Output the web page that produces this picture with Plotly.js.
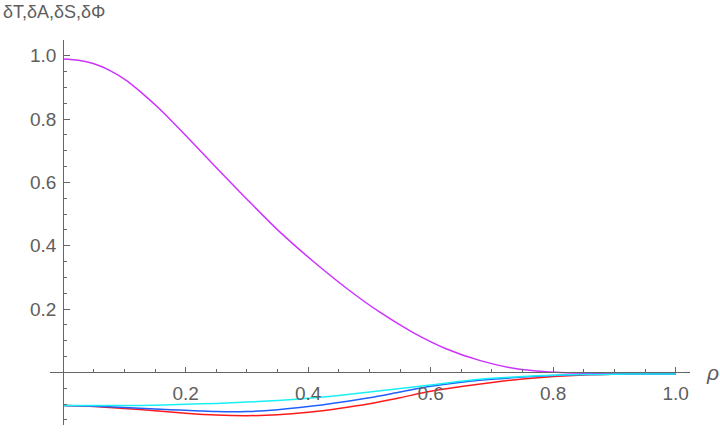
<!DOCTYPE html>
<html><head><meta charset="utf-8">
<script src="https://cdn.plot.ly/plotly-3.0.1.min.js"></script>
<style>html,body{margin:0;padding:0;background:#fff}#chart{width:720px;height:438px}</style>
</head><body><div id="chart"></div>
<script>
const rhoPurple = [0,0.025,0.049,0.075,0.104,0.130,0.158,0.200,0.245,0.300,0.354,0.408,0.463,0.517,0.572,0.626,0.681,0.735,0.789,0.85,0.90,0.95,1.0];
const dPurple   = [0.990,0.986,0.976,0.955,0.921,0.880,0.831,0.748,0.657,0.547,0.443,0.351,0.265,0.190,0.125,0.074,0.037,0.013,0.002,-0.003,-0.005,-0.005,-0.005];
const rho = [0,0.05,0.10,0.15,0.20,0.25,0.30,0.35,0.40,0.45,0.50,0.55,0.60,0.65,0.70,0.75,0.80,0.85,0.90,0.95,1.0];
const dRed  = [-0.105,-0.108,-0.114,-0.121,-0.129,-0.135,-0.137,-0.134,-0.126,-0.114,-0.099,-0.080,-0.060,-0.045,-0.032,-0.021,-0.013,-0.008,-0.006,-0.005,-0.005];
const dBlue = [-0.105,-0.107,-0.111,-0.116,-0.120,-0.124,-0.124,-0.118,-0.108,-0.095,-0.080,-0.062,-0.044,-0.031,-0.022,-0.015,-0.010,-0.007,-0.006,-0.005,-0.005];
const dCyan = [-0.105,-0.105,-0.105,-0.104,-0.101,-0.098,-0.094,-0.089,-0.082,-0.073,-0.062,-0.051,-0.040,-0.028,-0.019,-0.013,-0.009,-0.007,-0.006,-0.005,-0.005];
const xTicks = [0.2,0.4,0.6,0.8,1.0];
const xTickText = ["0.2","0.4","0.6","0.8","1.0"];
const yTicks = [0.2,0.4,0.6,0.8,1.0];
const yTickText = ["0.2","0.4","0.6","0.8","1.0"];

const xr = [-0.0216, 1.0233];
const yr = [-0.1663, 1.0500];
const gray = '#666666';
const fam = 'Liberation Sans, Arial, sans-serif';
const font = {family:fam, size:19, color:'#5e5e5e'};

function tr(y, color){
  return {x: rho, y: y, mode:'lines', line:{color:color, width:1.5, shape:'spline', smoothing:0.8}, hoverinfo:'skip', showlegend:false};
}
const traces = [
  {x: rhoPurple, y: dPurple, mode:'lines', line:{color:'#cc33ff', width:1.5, shape:'spline', smoothing:0.8}, showlegend:false},
  tr(dRed, '#ff1a1a'),
  tr(dBlue, '#1f5fff'),
  tr(dCyan, '#19f0f5')
];
const layout = {
  width:720, height:438,
  margin:{l:50, r:30, t:40, b:13},
  paper_bgcolor:'#fff', plot_bgcolor:'#fff',
  showlegend:false,
  xaxis:{range:xr, showgrid:false, zeroline:false, showline:true, linecolor:gray, linewidth:1,
    anchor:'free', position:(0-yr[0])/(yr[1]-yr[0]),
    tickmode:'array', tickvals:xTicks, ticktext:xTickText, ticks:'inside', ticklen:5, tickcolor:gray, tickwidth:1,
    ticklabelstandoff:4,
    minor:{tickmode:'linear', tick0:0, dtick:0.05, ticks:'inside', ticklen:3, tickcolor:gray, tickwidth:1},
    tickfont:font},
  yaxis:{range:yr, showgrid:false, zeroline:false, showline:true, linecolor:gray, linewidth:1,
    anchor:'free', position:(0-xr[0])/(xr[1]-xr[0]),
    tickmode:'array', tickvals:yTicks, ticktext:yTickText, ticks:'inside', ticklen:6, tickcolor:gray, tickwidth:1,
    ticklabelstandoff:3,
    minor:{tickmode:'linear', tick0:0, dtick:0.05, ticks:'inside', ticklen:3, tickcolor:gray, tickwidth:1},
    tickfont:font},
  annotations:[
    {text:'δT,δA,δS,δΦ', xref:'paper', yref:'paper', x:-49/640, y:1+28/385, xanchor:'left', yanchor:'middle', showarrow:false, font:{family:fam, size:18, color:'#5e5e5e'}},
    {text:'<i>ρ</i>', xref:'paper', yref:'y', x:1+14/640, y:0.0, xanchor:'left', yanchor:'middle', showarrow:false, font:{family:fam, size:21, color:'#5e5e5e'}}
  ]
};
Plotly.newPlot('chart', traces, layout, {displayModeBar:false, staticPlot:true});
</script></body></html>
